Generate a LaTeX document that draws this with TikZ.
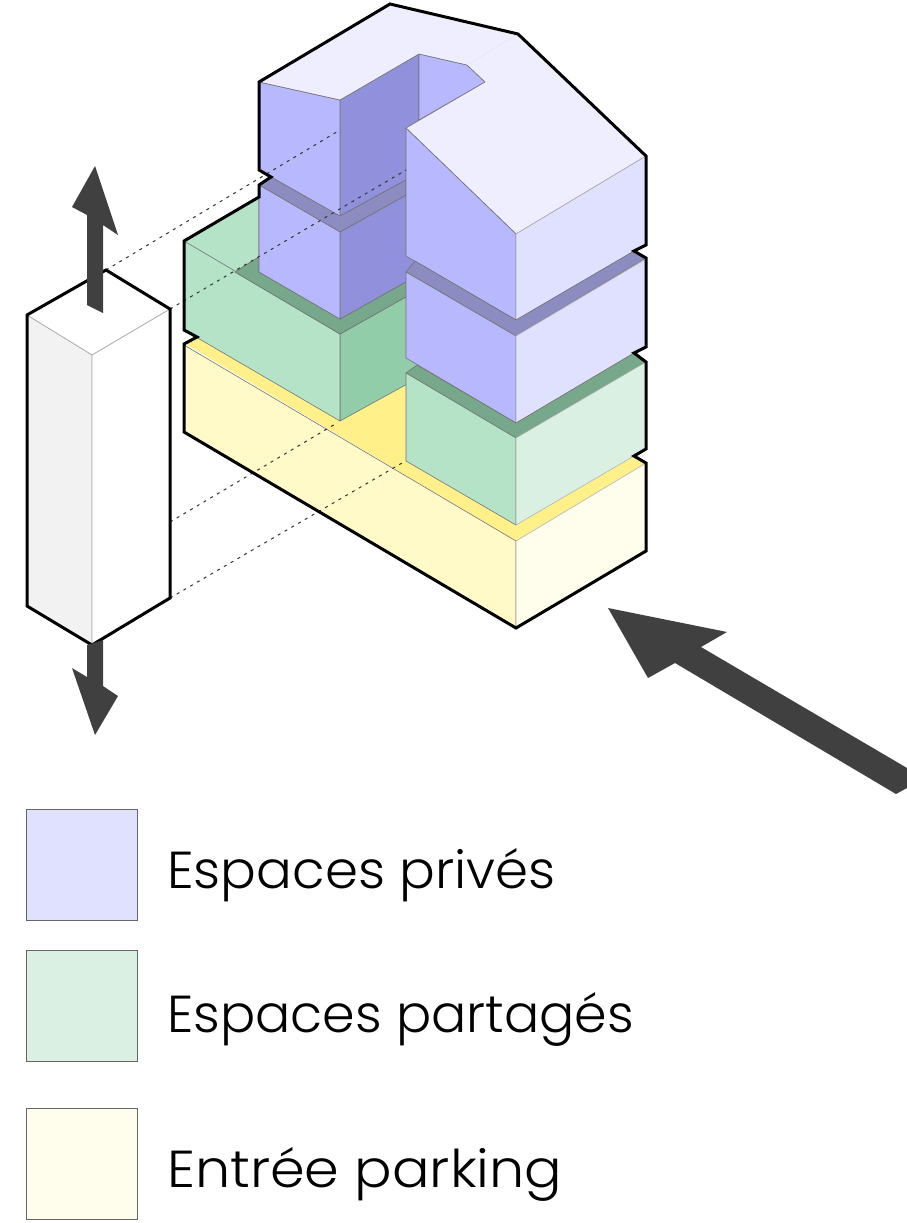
\documentclass[tikz,border=0pt]{standalone}
\usepackage{fontspec}
\setmainfont{Poppins Light}
\definecolor{pTop}{HTML}{EEEEFF}
\definecolor{pLeft}{HTML}{B8B8FF}
\definecolor{pRight}{HTML}{E0E0FF}
\definecolor{pDark}{HTML}{9090DC}
\definecolor{pSlab}{HTML}{8C8CC0}
\definecolor{gLeft}{HTML}{B4E3C8}
\definecolor{gRight}{HTML}{D9F0E3}
\definecolor{gDark}{HTML}{92CDAA}
\definecolor{gSlab}{HTML}{78A88C}
\definecolor{yTop}{HTML}{FFF08A}
\definecolor{yLeft}{HTML}{FFFAC8}
\definecolor{yRight}{HTML}{FFFDEB}
\definecolor{arrowgrey}{HTML}{404040}
\tikzset{
 face/.style={line width=0.6pt,draw=black!55,line join=round},
 lightface/.style={line width=0.6pt,draw=black!30,line join=round},
 outline/.style={line width=3pt,draw=black,line join=miter},
 hidden/.style={line width=1pt,draw=black!80,dash pattern=on 3pt off 4.8pt},
 bigarrow/.style={fill=arrowgrey,draw=none},
 swatch/.style={draw=black!60,line width=1pt},
 legendtext/.style={anchor=base west,font=\fontsize{52}{56}\selectfont,text=black,inner sep=0pt}
}
\begin{document}
\begin{tikzpicture}[x=1pt,y=-1pt]
\useasboundingbox (0,0) rectangle (907,1223);
% yellow block
\fill[yTop] (184,343)--(197,335)--(340,421)--(406,385)--(406,461)--(516,525)--(634,456)--(646,463)--(516,541)--cycle;
\path[face,fill=yLeft] (184,345)--(516,541)--(516,628)--(184,432)--cycle;
\path[lightface,fill=yRight] (516,541)--(646,463)--(646,551)--(516,628)--cycle;
% green rear block
\path[face,fill=gDark] (340,334)--(420,289)--(420,377)--(340,421)--cycle;
\path[face,fill=gLeft] (184,241)--(259,197)--(259,257)--(235,272)--(340,334)--(340,421)--(184,330)--cycle;
\draw[face] (184,241)--(235,271);
\path[face,fill=gSlab] (235,272)--(259,257)--(259,272)--(340,319)--(420,274)--(420,289)--(340,334)--cycle;
% purple rear tower
\path[face,fill=pDark] (340,100)--(419,54)--(419,120)--(420,274)--(340,319)--(340,232)--(406,195)--(406,180)--(340,216)--cycle;
\path[face,fill=pSlab] (259,185)--(271,177)--(340,216)--(406,180)--(406,195)--(340,232)--cycle;
\path[face,fill=pLeft] (259,82)--(340,100)--(340,216)--(259,170)--cycle;
\path[face,fill=pLeft] (259,185)--(340,232)--(340,319)--(259,272)--cycle;
\path[face,fill=pLeft] (419,54)--(467,65)--(485,82)--(419,120)--cycle;
% roof
\path[face,fill=pTop] (259,82)--(390,4)--(518,34)--(646,156)--(516,234)--(406,128)--(485,82)--(467,65)--(419,54)--(340,100)--cycle;
\draw[line width=0.4pt,draw=black!12] (467,65)--(518,34);
% front tower
\path[face,fill=pLeft] (406,128)--(516,234)--(516,320)--(406,256)--cycle;
\path[lightface,fill=pRight] (516,234)--(646,156)--(646,245)--(634,251)--(516,320)--cycle;
\path[face,fill=pSlab] (415,261)--(516,320)--(634,251)--(646,258)--(516,336)--(406,272)--cycle;
\path[face,fill=pLeft] (406,272)--(516,336)--(516,423)--(406,358)--cycle;
\path[lightface,fill=pRight] (516,336)--(646,259)--(646,347)--(634,353)--(516,423)--cycle;
\path[face,fill=gSlab] (417,365)--(516,423)--(634,353)--(646,362)--(516,438)--(406,373)--cycle;
\path[face,fill=gLeft] (406,373)--(516,438)--(516,525)--(406,461)--cycle;
\path[lightface,fill=gRight] (516,438)--(646,362)--(646,449)--(634,456)--(516,525)--cycle;
% hidden lines
\draw[hidden] (106,270)--(340,130);
\draw[hidden] (170,309)--(406,170);
\draw[hidden] (170,522)--(337,423);
\draw[hidden] (170,598)--(402,463);
% outline
\draw[outline] (259,82)--(390,4)--(518,34)--(646,156)--(646,245)--(634,251)--(646,258)--(646,347)--(634,353)--(646,362)--(646,449)--(634,456)--(646,463)--(646,551)--(516,628)--(184,432)--(184,344)--(197,337)--(184,330)--(184,241)--(259,197)--(259,185)--(271,177)--(259,170)--cycle;
% pillar
\path[fill=white] (27,315)--(106,270)--(170,309)--(92,355)--cycle;
\path[lightface,fill=black!5] (27,315)--(92,355)--(92,645)--(27,606)--cycle;
\path[lightface,fill=white] (92,355)--(170,309)--(170,598)--(92,645)--cycle;
\draw[lightface] (27,315)--(92,355)--(170,309);
\draw[outline] (27,315)--(106,270)--(170,309)--(170,598)--(92,645)--(27,606)--cycle;
% arrows
\path[bigarrow] (95,166)--(118,235)--(103,225)--(103,313)--(87,305)--(87,215)--(72,207)--cycle;
\path[bigarrow] (87,645)--(103,640)--(103,686)--(118,696)--(95,735)--(72,668)--(87,677)--cycle;
\path[bigarrow] (608,608)--(727,632)--(701,647)--(907,768)--(907,788)--(896,794)--(675,663)--(648,678)--cycle;
% legend
\node[swatch,fill=pRight,minimum size=111pt,inner sep=0pt,anchor=north west] (s1) at (25.5,808.5) {};
\node[swatch,fill=gRight,minimum size=111pt,inner sep=0pt,anchor=north west] (s2) at (25.5,950) {};
\node[swatch,fill=yRight,minimum size=111pt,inner sep=0pt,anchor=north west] (s3) at (25.5,1108) {};
\node[legendtext,xscale=1.02] (t1) at (167,888) {Espaces privés};
\node[legendtext,xscale=1.005] (t2) at (167,1032) {Espaces partagés};
\node[legendtext,xscale=1.07] (t3) at (167,1187) {Entrée parking};
\end{tikzpicture}
\end{document}
